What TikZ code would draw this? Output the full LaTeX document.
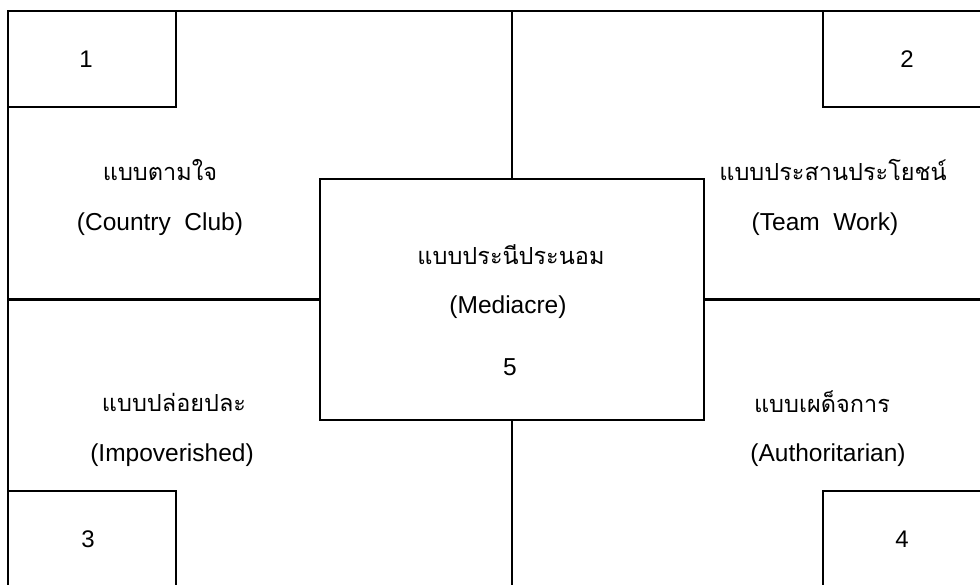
\documentclass[tikz,border=0pt]{standalone}
\usepackage{fontspec}
\setmainfont{Liberation Sans}
\newfontfamily\thaifont[Script=Thai]{Loma}
\usetikzlibrary{positioning}
\tikzset{
  frame/.style={draw,line width=2.2pt},
  corner/.style={draw,line width=2.2pt,minimum width=168pt,minimum height=96pt,inner sep=0pt,font=\fontsize{24}{28}\selectfont},
  middle/.style={draw,line width=2.2pt,minimum width=384pt,minimum height=241pt,inner sep=0pt},
  thai/.style={inner sep=0pt,font=\thaifont\fontsize{23.5}{28}\selectfont},
  latin/.style={inner sep=0pt,font=\fontsize{24.5}{28}\selectfont},
}
\begin{document}
\begin{tikzpicture}[x=1pt,y=-1pt]
  \clip (0,0) rectangle (980,584);
  % outer frame, cut off at right and bottom
  \draw[frame] (8,11) rectangle (1000,620);
  \node[corner] (c1) at (92,59) {\hspace*{-12pt}1};
  \node[corner] (c2) at (907,59) {2};
  \node[corner] (c3) at (92,539) {\hspace*{-8pt}3};
  \node[corner] (c4) at (907,539) {\hspace*{-10pt}4};
  \node[middle] (mid) at (512,299.5) {};
  \coordinate (topmid) at (512,11);
  \coordinate (botmid) at (512,600);
  \coordinate (leftmid) at (8,299.5);
  \coordinate (rightmid) at (1000,299.5);
  \draw[frame] (mid.north) -- (topmid);
  \draw[frame] (mid.south) -- (botmid);
  \draw[frame] (mid.west) -- (leftmid);
  \draw[frame] (mid.east) -- (rightmid);
  % labels
  \node[thai] (t1) at (160,170) {แบบตามใจ};
  \node[latin] (e1) at (160,224) {(Country\ \ Club)};
  \node[thai] (t2) at (833,170) {แบบประสานประโยชน์};
  \node[latin] (e2) at (825,224) {(Team\ \ Work)};
  \node[thai] (t3) at (174,402) {แบบปล่อยปละ};
  \node[latin] (e3) at (172,455) {(Impoverished)};
  \node[thai] (t4) at (822,402) {แบบเผด็จการ};
  \node[latin] (e4) at (828,455) {(Authoritarian)};
  \node[thai] (t5) at (511,255) {แบบประนีประนอม};
  \node[latin] (e5) at (508,307) {(Mediacre)};
  \node[latin] (n5) at (510,367) {5};
\end{tikzpicture}
\end{document}
